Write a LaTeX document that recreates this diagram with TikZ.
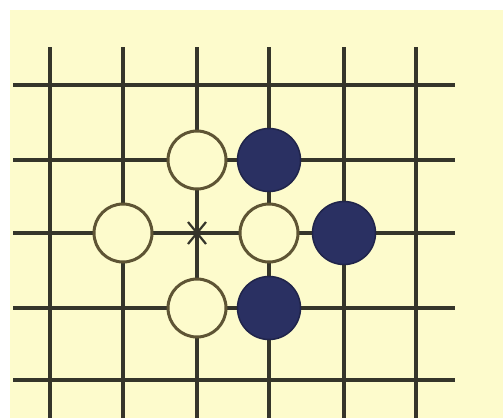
\documentclass[tikz,border=0pt]{standalone}
\usetikzlibrary{calc}
\definecolor{bg}{HTML}{FDFBCC}
\definecolor{gridc}{HTML}{35352A}
\definecolor{rimc}{HTML}{5E5434}
\definecolor{blk}{HTML}{2A3062}
\tikzset{
  gridline/.style={gridc, line width=3.6pt},
  wstone/.style={circle, draw=rimc, line width=3pt, fill=bg, minimum size=58pt, inner sep=0pt},
  bstone/.style={circle, draw=blk!75!black, line width=1.5pt, fill=blk, minimum size=63pt, inner sep=0pt},
  xmark/.style={gridc, line width=2.2pt}
}
\begin{document}
\begin{tikzpicture}[x=1pt,y=-1pt]
\useasboundingbox (0,0) rectangle (503,418);
\fill[white] (0,0) rectangle (503,418);
\fill[bg] (10,10) rectangle (503,418);
\foreach \x in {50,123,197,269,344,416} \draw[gridline] (\x,47) -- (\x,418);
\foreach \y in {85,160,233,308,380} \draw[gridline] (13,\y) -- (455,\y);
\coordinate (c) at (197,233);
\draw[xmark] ($(c)+(-9,-11)$) -- ($(c)+(9,11)$);
\draw[xmark] ($(c)+(9,-11)$) -- ($(c)+(-9,11)$);
\fill[gridc] (c) circle (3.5pt);
\node[wstone] (w1) at (197,160) {};
\node[wstone] (w2) at (123,233) {};
\node[wstone] (w3) at (269,233) {};
\node[wstone] (w4) at (197,308) {};
\node[bstone] (b1) at (269,160) {};
\node[bstone] (b2) at (344,233) {};
\node[bstone] (b3) at (269,308) {};
\end{tikzpicture}
\end{document}
